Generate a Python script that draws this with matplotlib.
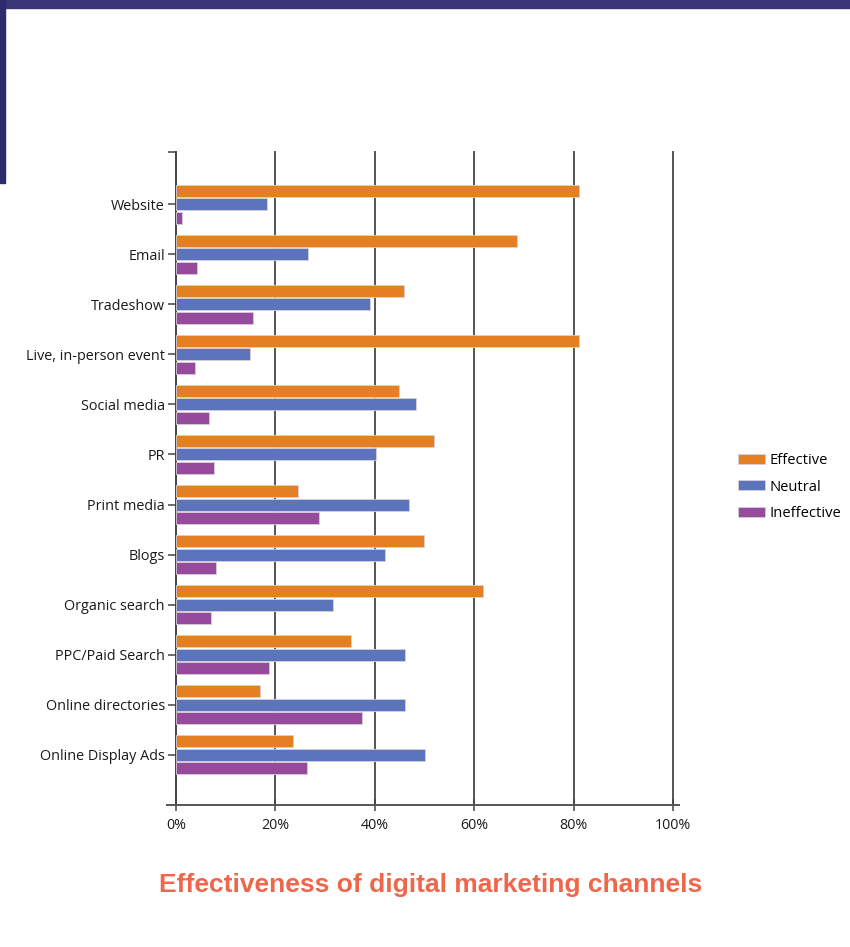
import matplotlib
matplotlib.use("Agg")
import matplotlib.pyplot as plt
from matplotlib.patches import Rectangle, Patch
from matplotlib.lines import Line2D
import numpy as np

channels = ["Website", "Email", "Tradeshow", "Live, in-person event", "Social media",
            "PR", "Print media", "Blogs", "Organic search", "PPC/Paid Search",
            "Online directories", "Online Display Ads"]
effective = [81, 68.7, 45.9, 81, 44.9, 51.9, 24.5, 49.9, 61.8, 35.3, 16.9, 23.5]
neutral = [18.4, 26.5, 39.0, 14.9, 48.3, 40.2, 46.9, 42.0, 31.5, 46.0, 46.1, 50.1]
ineffective = [1.2, 4.3, 15.4, 3.9, 6.7, 7.6, 28.7, 8.0, 7.0, 18.7, 37.5, 26.4]
series_names = ["Effective", "Neutral", "Ineffective"]
colors = ["#E57F23", "#5C74BB", "#954A9C"]
xticks = [0, 20, 40, 60, 80, 100]

plt.rcParams['font.family'] = ['Open Sans', 'DejaVu Sans']

fig = plt.figure(figsize=(8.5, 9.47), dpi=100)
fig.patch.set_facecolor("white")

# slide frame: dark band on top and a strip on the left
fig.patches.append(Rectangle((0, 1 - 8/947), 1, 8/947, transform=fig.transFigure,
                             color="#3B3676", zorder=0))
fig.patches.append(Rectangle((0, 1 - 183/947), 5/850, 183/947, transform=fig.transFigure,
                             color="#2E2A6B", zorder=0))

ax = fig.add_axes([176/850, 142/947, 497/850, 653/947])

y = np.arange(len(channels))
h = 0.24
step = 0.27
for k, (vals, c, name) in enumerate(zip([effective, neutral, ineffective], colors, series_names)):
    ax.barh(y + (k - 1) * step, vals, height=h, color=c, edgecolor="#d8d0d8",
            linewidth=0.6, label=name, zorder=3)

ax.set_xlim(0, 100)
ax.set_ylim(12.0, -1.04)
ax.set_xticks(xticks)
ax.set_xticklabels([f"{t}%" for t in xticks], fontsize=10.3, color="#1a1a1a")
ax.set_yticks(y)
ax.set_yticklabels(channels, fontsize=10.4, color="#1a1a1a")
ax.set_yticks([-1.04], minor=True)

for t in xticks[1:]:
    ax.axvline(t, color="#555555", lw=1.4, zorder=1, clip_on=False)

for s in ["top", "right", "bottom"]:
    ax.spines[s].set_visible(False)
ax.spines["left"].set_color("#444444")
ax.spines["left"].set_linewidth(1.4)
ax.add_line(Line2D([-0.018, 1.012], [0, 0], transform=ax.transAxes, color="#555555",
                   lw=1.4, clip_on=False, zorder=4))

ax.tick_params(axis="y", which="both", length=6, width=1.1, color="#444444", pad=2)
ax.tick_params(axis="x", direction="inout", length=8, width=1.1, color="#444444", pad=5)

handles = [Patch(facecolor=c, edgecolor="#d8d0d8", linewidth=0.6) for c in colors]
fig.legend(handles, series_names, loc="center left", bbox_to_anchor=(738/850, 0.4857),
           frameon=False, fontsize=10.6, handlelength=1.85, handleheight=0.68,
           handletextpad=0.3, labelspacing=0.78, borderpad=0, borderaxespad=0)

fig.text(0.507, 0.0655, "Effectiveness of digital marketing channels", ha="center",
         va="center", fontsize=19, fontweight="bold", color="#F0664A",
         family=["Liberation Sans", "DejaVu Sans"])

fig.savefig("out.png", dpi=100)
